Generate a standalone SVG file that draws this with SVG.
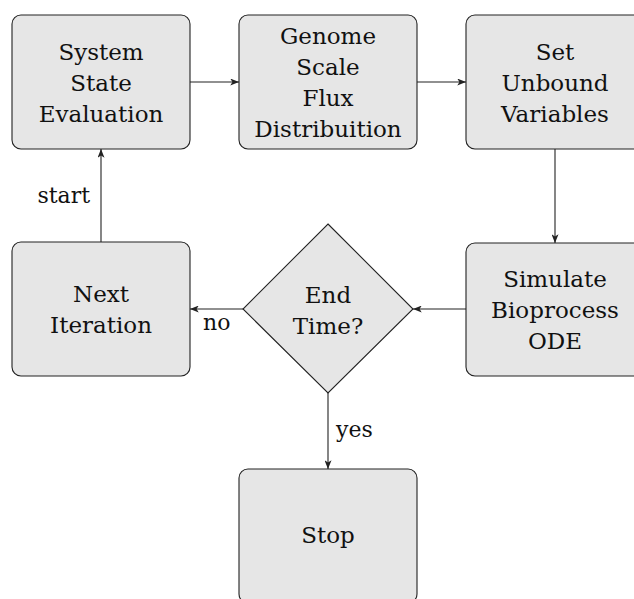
<svg xmlns="http://www.w3.org/2000/svg" width="634" height="599" viewBox="0 0 634 599">
  <style>
    .box { fill: #e6e6e6; stroke: #222; stroke-width: 1.1; }
    .lbl { font-family: "DejaVu Serif", "Liberation Serif", serif; font-size: 23px; fill: #111; text-anchor: middle; }
    .edge { fill: none; stroke: #222; stroke-width: 1.1; marker-end: url(#tip); }
    .elbl { font-family: "DejaVu Serif", "Liberation Serif", serif; font-size: 22px; fill: #111; }
  </style>
  <defs>
    <marker id="tip" viewBox="0 0 10 8" refX="10" refY="4" markerWidth="9" markerHeight="7" markerUnits="userSpaceOnUse" orient="auto">
      <path d="M0,0 L10,4 L0,8 L2.5,4 Z" fill="#222"/>
    </marker>
  </defs>
  <rect width="634" height="599" fill="#fff"/>

  <g id="connectors">
    <line class="edge" x1="190" y1="82" x2="239" y2="82"/>
    <line class="edge" x1="417" y1="82" x2="466" y2="82"/>
    <line class="edge" x1="555" y1="149" x2="555" y2="243"/>
    <line class="edge" x1="466" y1="309" x2="413" y2="309"/>
    <line class="edge" x1="243" y1="309" x2="190" y2="309"/>
    <line class="edge" x1="328" y1="393" x2="328" y2="469"/>
    <line class="edge" x1="101" y1="242" x2="101" y2="149"/>
    <text class="elbl" x="90" y="203" text-anchor="end">start</text>
    <text class="elbl" x="203" y="330">no</text>
    <text class="elbl" x="336" y="437">yes</text>
  </g>

  <g id="system-state">
    <rect class="box" x="12" y="15" width="178" height="134" rx="9"/>
    <text class="lbl" x="101" y="60">System</text>
    <text class="lbl" x="101" y="91">State</text>
    <text class="lbl" x="101" y="122">Evaluation</text>
  </g>

  <g id="flux">
    <rect class="box" x="239" y="15" width="178" height="134" rx="9"/>
    <text class="lbl" x="328" y="44">Genome</text>
    <text class="lbl" x="328" y="75">Scale</text>
    <text class="lbl" x="328" y="106">Flux</text>
    <text class="lbl" x="328" y="137">Distribuition</text>
  </g>

  <g id="unbound">
    <rect class="box" x="466" y="15" width="178" height="134" rx="9"/>
    <text class="lbl" x="555" y="60">Set</text>
    <text class="lbl" x="555" y="91">Unbound</text>
    <text class="lbl" x="555" y="122">Variables</text>
  </g>

  <g id="simulate">
    <rect class="box" x="466" y="243" width="178" height="133" rx="9"/>
    <text class="lbl" x="555" y="287">Simulate</text>
    <text class="lbl" x="555" y="318">Bioprocess</text>
    <text class="lbl" x="555" y="349">ODE</text>
  </g>

  <g id="end-time">
    <polygon class="box" points="328,224 413,309 328,393 243,309"/>
    <text class="lbl" x="328" y="303">End</text>
    <text class="lbl" x="328" y="334">Time?</text>
  </g>

  <g id="next-iteration">
    <rect class="box" x="12" y="242" width="178" height="134" rx="9"/>
    <text class="lbl" x="101" y="302">Next</text>
    <text class="lbl" x="101" y="333">Iteration</text>
  </g>

  <g id="stop">
    <rect class="box" x="239" y="469" width="178" height="134" rx="9"/>
    <text class="lbl" x="328" y="543">Stop</text>
  </g>
</svg>
